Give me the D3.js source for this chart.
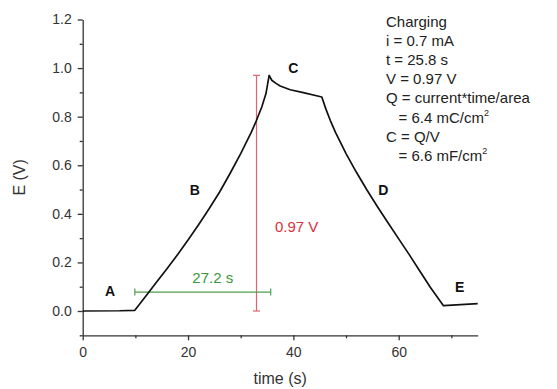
<!DOCTYPE html>
<html>
<head>
<meta charset="utf-8">
<script src="https://cdn.jsdelivr.net/npm/d3@7"></script>
<style>
  body { margin: 0; background: #fff; }
  svg { font-family: Arial, "Liberation Sans", sans-serif; }
  .axis path, .axis line { stroke: #333; stroke-width: 1.3; }
  .axis text { fill: #333; font-size: 14px; }
</style>
</head>
<body>
<div id="chart"></div>
<script>
// Curve data: time (s) and potential E (V)
let timeVals = [0, 7, 9.9, 12, 14, 16, 18, 20, 22, 24, 26, 28, 30, 32, 33, 34, 34.8, 35.4,
  35.9, 36.7, 37.5, 39.4, 41.9, 45.4,
  46.2, 47, 48, 50, 52, 54, 56, 58, 60, 62, 64, 66, 68.5, 75];
let eVals = [0, 0.001, 0.003, 0.062, 0.118, 0.174, 0.232, 0.292, 0.355, 0.421, 0.49, 0.567, 0.648, 0.735, 0.785, 0.84, 0.895, 0.97,
  0.95, 0.937, 0.926, 0.911, 0.899, 0.881,
  0.83, 0.785, 0.735, 0.648, 0.57, 0.497, 0.428, 0.362, 0.297, 0.232, 0.165, 0.098, 0.022, 0.03];

// Region letters with their anchor in data units
let regionNames = ["A", "B", "C", "D", "E"];
let regionT = [5.2, 21.3, 40.0, 57.1, 71.6];
let regionE = [0.082, 0.497, 1.002, 0.497, 0.099];

// Measurement bars
let vBar = { t: 33, e0: 0, e1: 0.97, label: "0.97 V" };
let hBar = { e: 0.078, t0: 9.9, t1: 35.7, label: "27.2 s" };

// Ticks
let xTicks = [0, 20, 40, 60];
let xMinor = [10, 30, 50, 70];
let yTicks = [0, 0.2, 0.4, 0.6, 0.8, 1.0, 1.2];
let yMinor = [-0.1, 0.1, 0.3, 0.5, 0.7, 0.9, 1.1];

// Info text block
let infoLines = ["Charging", "i = 0.7 mA", "t = 25.8 s", "V = 0.97 V", "Q = current*time/area",
  "   = 6.4 mC/cm", "C = Q/V", "   = 6.6 mF/cm"];

let W = 557, H = 389;
let svg = d3.select("#chart").append("svg").attr("width", W).attr("height", H);

let x = d3.scaleLinear().domain([0, 75]).range([82.7, 477.7]);
let y = d3.scaleLinear().domain([-0.1, 1.2]).range([335.3, 19.5]);

// minor ticks first
svg.append("g").attr("class", "axis")
  .attr("transform", "translate(0," + y(-0.1) + ")")
  .call(d3.axisBottom(x).tickValues(xMinor).tickSize(3).tickFormat(""))
  .select(".domain").remove();
svg.append("g").attr("class", "axis")
  .attr("transform", "translate(" + x(0) + ",0)")
  .call(d3.axisLeft(y).tickValues(yMinor).tickSize(3).tickFormat(""))
  .select(".domain").remove();

// major axes
let xAxisEl = svg.append("g").attr("class", "axis")
  .attr("transform", "translate(0," + y(-0.1) + ")")
  .call(d3.axisBottom(x).tickValues(xTicks).tickSize(5).tickPadding(7).tickSizeOuter(0));
let yAxisEl = svg.append("g").attr("class", "axis")
  .attr("transform", "translate(" + x(0) + ",0)")
  .call(d3.axisLeft(y).tickValues(yTicks).tickSize(5).tickPadding(6).tickSizeOuter(0)
    .tickFormat(d3.format(".1f")));

// axis titles
svg.append("text")
  .attr("x", (x(0) + x(75)) / 2).attr("y", 384)
  .attr("text-anchor", "middle").attr("font-size", 16).attr("fill", "#333")
  .text("time (s)");
svg.append("text")
  .attr("transform", "translate(25," + (y(-0.1) + y(1.2)) / 2 + ") rotate(-90)")
  .attr("text-anchor", "middle").attr("font-size", 16).attr("fill", "#333")
  .text("E (V)");

// measurement bars
let red = "#e0636f", redText = "#d8313c";
let green = "#4f9e4f", greenText = "#3a983a";
let bars = svg.append("g").attr("stroke-width", 1.2);
bars.append("line").attr("stroke", red)
  .attr("x1", x(vBar.t)).attr("x2", x(vBar.t)).attr("y1", y(vBar.e0)).attr("y2", y(vBar.e1));
[vBar.e0, vBar.e1].forEach((e) => {
  bars.append("line").attr("stroke", red)
    .attr("x1", x(vBar.t) - 3.5).attr("x2", x(vBar.t) + 3.5).attr("y1", y(e)).attr("y2", y(e));
});
bars.append("line").attr("stroke", green)
  .attr("x1", x(hBar.t0)).attr("x2", x(hBar.t1)).attr("y1", y(hBar.e)).attr("y2", y(hBar.e));
[hBar.t0, hBar.t1].forEach((t) => {
  bars.append("line").attr("stroke", green)
    .attr("x1", x(t)).attr("x2", x(t)).attr("y1", y(hBar.e) - 3.5).attr("y2", y(hBar.e) + 3.5);
});
svg.append("text").attr("x", x(36.5)).attr("y", y(0.326))
  .attr("font-size", 15).attr("fill", redText).text(vBar.label);
svg.append("text").attr("x", x(24.7)).attr("y", y(0.115))
  .attr("text-anchor", "middle").attr("font-size", 15).attr("fill", greenText).text(hBar.label);

// curve
let pts = timeVals.map((t, i) => [t, eVals[i]]);
svg.append("path")
  .datum(pts)
  .attr("fill", "none").attr("stroke", "#111").attr("stroke-width", 1.7)
  .attr("stroke-linejoin", "round")
  .attr("d", d3.line().x((d) => x(d[0])).y((d) => y(d[1])));

// region letters
svg.append("g").selectAll("text")
  .data(regionNames)
  .join("text")
  .attr("x", (d, i) => x(regionT[i]))
  .attr("y", (d, i) => y(regionE[i]))
  .attr("dy", "0.36em")
  .attr("text-anchor", "middle").attr("font-size", 14).attr("font-weight", "bold").attr("fill", "#111")
  .text((d) => d);

// info block
let info = svg.append("g").attr("font-size", 15).attr("fill", "#222");
infoLines.forEach((s, i) => {
  let t = info.append("text").attr("x", 386).attr("y", 26.5 + i * 19.2).attr("xml:space", "preserve")
    .style("white-space", "pre").text(s);
  if (s.endsWith("cm")) {
    t.append("tspan").attr("font-size", 9).attr("dy", -7).text("2");
  }
});
</script>
</body>
</html>
